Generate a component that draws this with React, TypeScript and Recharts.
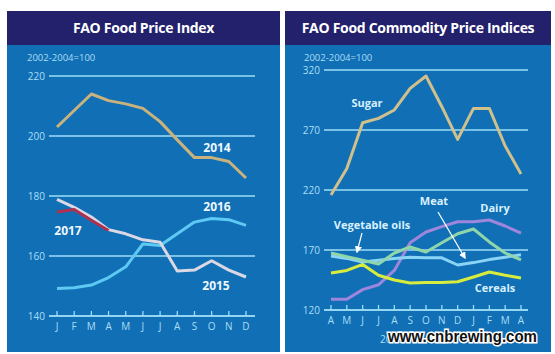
import React from 'react';
import { LineChart, Line, XAxis, YAxis, CartesianGrid } from 'recharts';

// Left panel: FAO Food Price Index (2002-2004=100)
const months = ['J', 'F', 'M', 'A', 'M', 'J', 'J', 'A', 'S', 'O', 'N', 'D'];
const fpi2014 = [203, 208.5, 214, 211.8, 210.7, 209.2, 204.8, 198.7, 192.8, 192.8, 191.5, 186];
const fpi2015 = [178.9, 176.2, 173, 168.8, 167.4, 165.4, 164.6, 155, 155.3, 158.4, 155.3, 153];
const fpi2016 = [149.2, 149.4, 150.3, 152.8, 156.4, 164, 163.5, 167.4, 171.3, 172.5, 172.1, 170.2];
const fpi2017 = [174.7, 175.5, 171.9, 168.5];
const leftTicks = [140, 160, 180, 200, 220];

// Right panel: FAO Food Commodity Price Indices
const commodityMonths = ['A', 'M', 'J', 'J', 'A', 'S', 'O', 'N', 'D', 'J', 'F', 'M', 'A'];
const sugar = [215.8, 238, 276, 279.7, 286.7, 304.7, 315, 289.4, 262.2, 288, 288, 256.7, 233.3];
const dairy = [129, 129, 137, 141, 153, 176, 185, 189.5, 193.5, 193.5, 195, 190, 184];
const vegOils = [167.5, 164.5, 161.5, 158.3, 167.5, 172.5, 168.3, 176, 183.5, 187.5, 176.7, 167.5, 161.7];
const meat = [165, 163, 160, 161.5, 163, 164, 163.5, 163.5, 157.5, 159.5, 162, 164, 166];
const cereals = [150.8, 153, 158, 149, 145, 142.5, 143, 143, 143.5, 147.5, 151.7, 149, 146.7];
const rightTicks = [120, 170, 220, 270, 320];

const leftData = months.map((m, i) => ({
  m,
  y2014: fpi2014[i],
  y2015: fpi2015[i],
  y2016: fpi2016[i],
  y2017: i < fpi2017.length ? fpi2017[i] : null,
}));

const rightData = commodityMonths.map((m, i) => ({
  m,
  sugar: sugar[i],
  dairy: dairy[i],
  vegOils: vegOils[i],
  meat: meat[i],
  cereals: cereals[i],
}));

const NAVY = '#23206c';
const BLUE = '#116fb6';
const GRID = '#9edcf6';
const LABEL = '#a9def5';
const FONT = '"Open Sans", "Liberation Sans", sans-serif';

const MonthTick = (props: any) => {
  const { x, y, payload } = props;
  return (
    <g>
      <line x1={x} x2={x} y1={y - 5} y2={y} stroke={GRID} strokeWidth={1.3} />
      <text x={x} y={y + 14} textAnchor="middle" fill={LABEL} fontSize={10} fontFamily={FONT}>
        {payload.value}
      </text>
    </g>
  );
};

const ValueTick = (props: any) => {
  const { x, y, payload } = props;
  return (
    <text x={x} y={y + 3.5} textAnchor="end" fill={LABEL} fontSize={10} fontFamily={FONT}>
      {payload.value}
    </text>
  );
};

const panelStyle = (left: number, width: number): React.CSSProperties => ({
  position: 'absolute',
  left,
  top: 11,
  width,
  height: 341,
  background: BLUE,
});

const headerStyle: React.CSSProperties = {
  height: 34,
  background: NAVY,
  color: '#ffffff',
  fontFamily: FONT,
  fontWeight: 700,
  fontSize: 14,
  lineHeight: '34px',
  textAlign: 'center',
  letterSpacing: -0.3,
};

const baseStyle: React.CSSProperties = {
  position: 'absolute',
  fontFamily: FONT,
  fontSize: 9.5,
  color: LABEL,
};

const lineProps = {
  type: 'linear' as const,
  dot: false,
  strokeWidth: 3,
  isAnimationActive: false,
  strokeLinejoin: 'round' as const,
};

export default function App() {
  return (
    <div style={{ position: 'absolute', left: 0, top: 0, width: 555, height: 354, background: '#ffffff', overflow: 'hidden' }}>
      <div style={panelStyle(7, 273)}>
        <div style={headerStyle}>FAO Food Price Index</div>
      </div>
      <div style={panelStyle(285, 266)}>
        <div style={headerStyle}>FAO Food Commodity Price Indices</div>
      </div>
      <div style={{ ...baseStyle, left: 27, top: 51 }}>2002-2004=100</div>
      <div style={{ ...baseStyle, left: 304, top: 51 }}>2002-2004=100</div>

      <div style={{ position: 'absolute', left: 0, top: 0 }}>
        <LineChart width={280} height={354} data={leftData} margin={{ top: 76, right: 25, bottom: 8, left: 9 }}>
          <CartesianGrid horizontal vertical={false} stroke={GRID} strokeWidth={1.5} />
          <XAxis
            dataKey="m"
            height={30}
            padding={{ left: 8, right: 9 }}
            axisLine={{ stroke: GRID, strokeWidth: 1.5 }}
            tickLine={false}
            tickSize={0}
            tickMargin={0}
            interval={0}
            tick={<MonthTick />}
          />
          <YAxis
            width={40}
            domain={[140, 220]}
            ticks={leftTicks}
            axisLine={false}
            tickLine={false}
            tickSize={0}
            tickMargin={4}
            tick={<ValueTick />}
          />
          <Line dataKey="y2014" stroke="#c9b27c" {...lineProps} />
          <Line dataKey="y2016" stroke="#5ec9f3" {...lineProps} />
          <Line dataKey="y2015" stroke="#d9d8e4" {...lineProps} />
          <Line dataKey="y2017" stroke="#b2304f" {...lineProps} />
        </LineChart>
      </div>

      <div style={{ position: 'absolute', left: 280, top: 0 }}>
        <LineChart width={275} height={354} data={rightData} margin={{ top: 70, right: 27, bottom: 14, left: 4 }}>
          <CartesianGrid horizontal vertical={false} stroke={GRID} strokeWidth={1.5} />
          <XAxis
            dataKey="m"
            height={30}
            padding={{ left: 7, right: 7 }}
            axisLine={{ stroke: GRID, strokeWidth: 1.5 }}
            tickLine={false}
            tickSize={0}
            tickMargin={0}
            interval={0}
            tick={<MonthTick />}
          />
          <YAxis
            width={40}
            domain={[120, 320]}
            ticks={rightTicks}
            axisLine={false}
            tickLine={false}
            tickSize={0}
            tickMargin={4}
            tick={<ValueTick />}
          />
          <Line dataKey="sugar" stroke="#cfc08c" {...lineProps} />
          <Line dataKey="dairy" stroke="#9d86dc" {...lineProps} />
          <Line dataKey="meat" stroke="#8ad4f6" {...lineProps} />
          <Line dataKey="vegOils" stroke="#8fd6aa" {...lineProps} />
          <Line dataKey="cereals" stroke="#d8ec3e" {...lineProps} />
        </LineChart>
      </div>

      <svg width={555} height={354} style={{ position: 'absolute', left: 0, top: 0, pointerEvents: 'none' }}>
        <defs>
          <marker id="arrow" viewBox="0 0 10 10" refX="8" refY="5" markerWidth="6" markerHeight="6" orient="auto">
            <path d="M0,0 L10,5 L0,10 z" fill="#ffffff" />
          </marker>
        </defs>
        <g fontFamily={FONT} fontWeight={700} fontSize={12} fill="#eef8ff" textAnchor="middle">
          <text x={217} y={152}>2014</text>
          <text x={217} y={211}>2016</text>
          <text x={68} y={235}>2017</text>
          <text x={216} y={290}>2015</text>
        </g>
        <g fontFamily={FONT} fontWeight={700} fontSize={11} fill="#d8f1ff" textAnchor="middle">
          <text x={367} y={107}>Sugar</text>
          <text x={434} y={205}>Meat</text>
          <text x={495} y={212}>Dairy</text>
          <text x={372} y={229}>Vegetable oils</text>
          <text x={495} y={292}>Cereals</text>
        </g>
        <line x1={362} y1={233} x2={357} y2={252} stroke="#ffffff" strokeWidth={1.2} markerEnd="url(#arrow)" />
        <line x1={438} y1={212} x2={465} y2={258} stroke="#ffffff" strokeWidth={1.2} markerEnd="url(#arrow)" />
        <text x={380} y={343} fontFamily={FONT} fontSize={10} fill={LABEL}>2016</text>
        <text
          x={388}
          y={342}
          fontFamily='"Liberation Sans", Arial, sans-serif'
          fontWeight={700}
          fontSize={16}
          textLength={149}
          lengthAdjust="spacingAndGlyphs"
          fill="#111111"
          stroke="#ffffff"
          strokeWidth={3}
          paintOrder="stroke"
        >
          www.cnbrewing.com
        </text>
      </svg>
    </div>
  );
}
